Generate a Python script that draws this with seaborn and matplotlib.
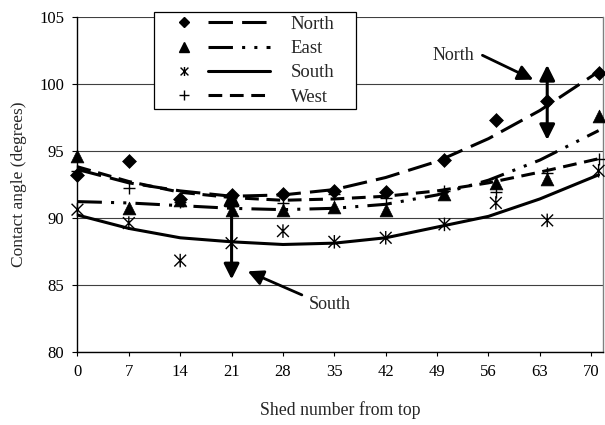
import matplotlib.pyplot as plt
import seaborn as sns
import pandas as pd
from matplotlib.path import Path
from matplotlib.lines import Line2D
from matplotlib.legend_handler import HandlerBase


# measured contact angles per shed
sheds = [0, 7, 14, 21, 28, 35, 42, 50, 57, 64, 71]
north = [93.2, 94.2, 91.4, 91.7, 91.8, 92.0, 91.9, 94.3, 97.3, 98.7, 100.8]
east = [94.6, 90.7, 91.3, 90.6, 90.6, 90.8, 90.6, 91.8, 92.6, 92.9, 97.6]
south = [90.6, 89.6, 86.8, 88.1, 89.0, 88.2, 88.5, 89.5, 91.1, 89.8, 93.5]
west = [93.5, 92.2, 91.2, 90.9, 91.1, 91.8, 91.5, 92.0, 91.9, 93.3, 94.4]

# trend lines
trend_x = [0, 7, 14, 21, 28, 35, 42, 49, 56, 63, 71]
north_trend = [93.6, 92.6, 92.0, 91.6, 91.7, 92.1, 93.0, 94.2, 95.9, 98.0, 100.9]
east_trend = [91.2, 91.1, 90.9, 90.7, 90.6, 90.7, 91.0, 91.7, 92.8, 94.3, 96.5]
south_trend = [90.2, 89.2, 88.5, 88.2, 88.0, 88.1, 88.5, 89.3, 90.1, 91.4, 93.2]
west_trend = [93.8, 92.7, 91.9, 91.5, 91.3, 91.4, 91.6, 92.0, 92.6, 93.4, 94.4]

series = ['North', 'East', 'South', 'West']
x_ticks = [0, 7, 14, 21, 28, 35, 42, 49, 56, 63, 70]
y_ticks = [80, 85, 90, 95, 100, 105]

# annotation arrows
north_arrow = (64, 95.8, 101.4)
south_arrow = (21, 85.4, 92.1)

sns.set_style('white')
plt.rcParams['font.family'] = ['Liberation Serif', 'DejaVu Serif']

star = Path([(-1, -1), (1, 1), (-1, 1), (1, -1), (0, -1.15), (0, 1.15)],
            [Path.MOVETO, Path.LINETO, Path.MOVETO, Path.LINETO, Path.MOVETO, Path.LINETO])

style = {
    'North': dict(marker='D', s=50, filled=True, ls=(0, (8, 3)), lms=4.7),
    'East': dict(marker='^', s=85, filled=True, ls=(0, (8, 3, 1, 3, 1, 3)), lms=7),
    'South': dict(marker=star, s=95, filled=False, ls='-', lms=6.5),
    'West': dict(marker='+', s=64, filled=False, ls=(0, (4.5, 2.5)), lms=6.5),
}

points = pd.DataFrame({'shed': sheds, 'North': north, 'East': east,
                       'South': south, 'West': west})
trends = pd.DataFrame({'shed': trend_x, 'North': north_trend, 'East': east_trend,
                       'South': south_trend, 'West': west_trend})

fig, ax = plt.subplots(figsize=(6.05, 4.25), dpi=100)
fig.subplots_adjust(left=0.128, right=0.9967, bottom=0.1725, top=0.9607)

for name in series:
    st = style[name]
    sns.lineplot(data=trends, x='shed', y=name, ax=ax, color='black', lw=2.2,
                 linestyle=st['ls'], zorder=3)
    if st['filled']:
        sns.scatterplot(data=points, x='shed', y=name, ax=ax, marker=st['marker'],
                        s=st['s'], color='black', edgecolor='black', linewidth=0.5,
                        clip_on=False, zorder=4)
    elif st['marker'] == '+':
        sns.scatterplot(data=points, x='shed', y=name, ax=ax, marker='+',
                        s=st['s'], color='black', linewidth=1.0,
                        clip_on=False, zorder=4)
    else:
        sns.scatterplot(data=points, x='shed', y=name, ax=ax, marker=st['marker'],
                        s=st['s'], facecolor='none', edgecolor='black', linewidth=1.0,
                        clip_on=False, zorder=4)

ax.set_xlim(0, 71.6)
ax.set_ylim(80, 105)
ax.set_xticks(x_ticks)
ax.set_yticks(y_ticks)
ax.grid(axis='y', color='#404040', lw=0.8)
ax.grid(axis='x', visible=False)
ax.set_axisbelow(True)
for side in ['left', 'bottom']:
    ax.spines[side].set_color('black')
    ax.spines[side].set_linewidth(1.0)
ax.spines['top'].set_visible(False)
ax.spines['right'].set_color('#808080')
ax.spines['right'].set_linewidth(1.0)
ax.tick_params(axis='y', direction='out', length=3.6, width=0.8, pad=6, labelsize=12,
               left=True, colors='black')
ax.tick_params(axis='x', direction='out', length=3, width=0.8, pad=6, labelsize=12,
               bottom=True, colors='black')
ax.set_xlabel('Shed number from top', fontsize=12.8, labelpad=15)
ax.set_ylabel('Contact angle (degrees)', fontsize=12.5, labelpad=9)

# arrows and labels
arrow_kw = dict(color='black', lw=2.2, shrinkA=0, shrinkB=0, mutation_scale=23)
x, lo, hi = north_arrow
ax.annotate('', xy=(x, hi), xytext=(x, lo),
            arrowprops=dict(arrowstyle='<|-|>,head_length=0.4,head_width=0.2', **arrow_kw))
x, lo, hi = south_arrow
ax.annotate('', xy=(x, lo), xytext=(x, hi),
            arrowprops=dict(arrowstyle='<|-|>,head_length=0.4,head_width=0.2', **arrow_kw))
ax.annotate('North', xy=(62.1, 100.3), xytext=(51.2, 102.1), ha='center', va='center',
            fontsize=13,
            arrowprops=dict(arrowstyle='-|>,head_length=0.4,head_width=0.2',
                            color='black', lw=2, mutation_scale=23,
                            relpos=(1.0, 0.75), shrinkA=4, shrinkB=0))
ax.annotate('South', xy=(23.2, 86.0), xytext=(34.4, 83.5), ha='center', va='center',
            fontsize=13,
            arrowprops=dict(arrowstyle='-|>,head_length=0.4,head_width=0.2',
                            color='black', lw=2, mutation_scale=23,
                            relpos=(0.0, 0.9), shrinkA=3, shrinkB=0))


class MarkThenLine(HandlerBase):
    def create_artists(self, legend, orig_handle, xdescent, ydescent,
                       width, height, fontsize, trans):
        mk, ln = orig_handle
        y = height / 2 - ydescent
        a = Line2D([0.23 * width - xdescent], [y])
        a.update_from(mk)
        b = Line2D([0.45 * width - xdescent, width - xdescent], [y, y])
        b.update_from(ln)
        for art in (a, b):
            art.set_transform(trans)
        return [a, b]


handles = []
for name in series:
    st = style[name]
    if st['filled']:
        mk = Line2D([], [], marker=st['marker'], ms=st['lms'], color='black',
                    linestyle='none')
    else:
        mk = Line2D([], [], marker=st['marker'], ms=st['lms'], markerfacecolor='none',
                    markeredgecolor='black', markeredgewidth=1.0, linestyle='none')
    ln = Line2D([], [], color='black', lw=2.2, linestyle=st['ls'])
    handles.append((mk, ln))

leg = ax.legend(handles, series, handler_map={tuple: MarkThenLine()},
                loc='upper left', bbox_to_anchor=(0.1456, 0.70, 0.3844, 0.314),
                mode='expand', borderaxespad=0, borderpad=0.2, labelspacing=0.38,
                handlelength=6.0, handletextpad=1.1, fontsize=13.5,
                frameon=True, fancybox=False, framealpha=1, edgecolor='black')
leg.get_frame().set_linewidth(0.9)
leg.set_zorder(6)

fig.savefig('out.png', dpi=100)
